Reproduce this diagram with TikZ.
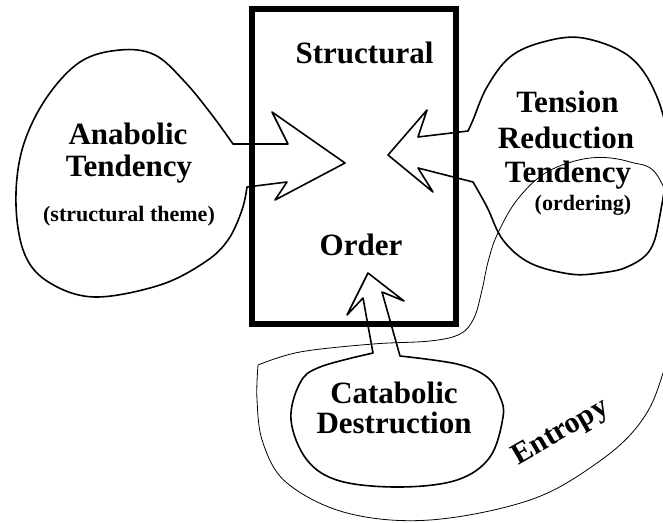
\documentclass[tikz,border=0pt]{standalone}
\usepackage{fontspec}
\setmainfont{Liberation Serif}
\begin{document}
\begin{tikzpicture}[x=1pt,y=-1pt,
  blob/.style={line width=1.6pt, line join=round},
  thinline/.style={line width=0.8pt},
  big/.style={font=\fontsize{31}{34}\selectfont\bfseries, anchor=base, inner sep=0pt},
  small/.style={font=\fontsize{22}{25}\selectfont\bfseries, anchor=base, inner sep=0pt}]
\useasboundingbox (0,0) rectangle (663,522);
\clip (0,0) rectangle (663,522);
% central box
\node (box) [draw, line width=5.5pt, minimum width=204pt, minimum height=315pt, inner sep=0pt] at (354,166.5) {};
\node (structural) [big] at (364.5,63) {Structural};
\node (order) [big] at (361,255) {Order};
% left blob: anabolic
\draw[blob] plot[smooth, tension=0.6] coordinates {(247,187) (242,210) (228,240) (205,262) (160,285) (95,297) (50,283) (25,255) (16,205) (22,150) (45,100) (80,62) (120,50) (155,55) (185,82) (212,115) (233,144)}
  -- (288,144) -- (272,112) -- (345,163) -- (275,200) -- (287,182) -- cycle;
\node (anab1) [big] at (128,144.3) {Anabolic};
\node (anab2) [big] at (129,176.7) {Tendency};
\node (anab3) [small] at (129,221.7) {(structural theme)};
% right blob: tension reduction
\draw[blob] plot[smooth, tension=0.6] coordinates {(473,182) (487,207) (503,240) (530,263) (570,274) (600,273) (627,267) (650,250) (660,215) (668,150) (657,97) (630,57) (583,38) (543,42) (510,57) (487,87) (473,120) (468,131)}
  -- (418,137) -- (427,110) -- (388,155) -- (433,192) -- (418,168) -- cycle;
\node (ten1) [big] at (567.5,112) {Tension};
\node (ten2) [big] at (566,148) {Reduction};
\node (ten3) [big] at (568,182) {Tendency};
\node (ten4) [small] at (583,210) {(ordering)};
% bottom blob: catabolic
\draw[blob] plot[smooth, tension=0.6] coordinates {(400,356) (457,364) (487,377) (500,397) (503,417) (490,457) (457,480) (400,487) (340,481) (307,460) (291,420) (300,383) (320,367) (373,353)}
  -- (363,298) -- (347,315) -- (368,273) -- (404,301) -- (382,292) -- cycle;
\node (cat1) [big] at (394,403) {Catabolic};
\node (cat2) [big] at (394,433) {Destruction};
% entropy curve
\draw[thinline] plot[smooth, tension=0.6] coordinates {(258,365) (300,352) (373,344) (430,341) (460,334) (474,318) (482,290) (488,262) (497,235) (517,200) (547,172) (590,158) (630,162) (660,180) (688,270) (663,373) (640,423) (597,463) (530,500) (430,520) (347,513) (287,483) (263,443) (257,400) (258,365)};
\node (entropy) [font=\fontsize{30}{33}\selectfont\bfseries, rotate=30, inner sep=0pt] at (561,433) {Entropy};
\end{tikzpicture}
\end{document}
